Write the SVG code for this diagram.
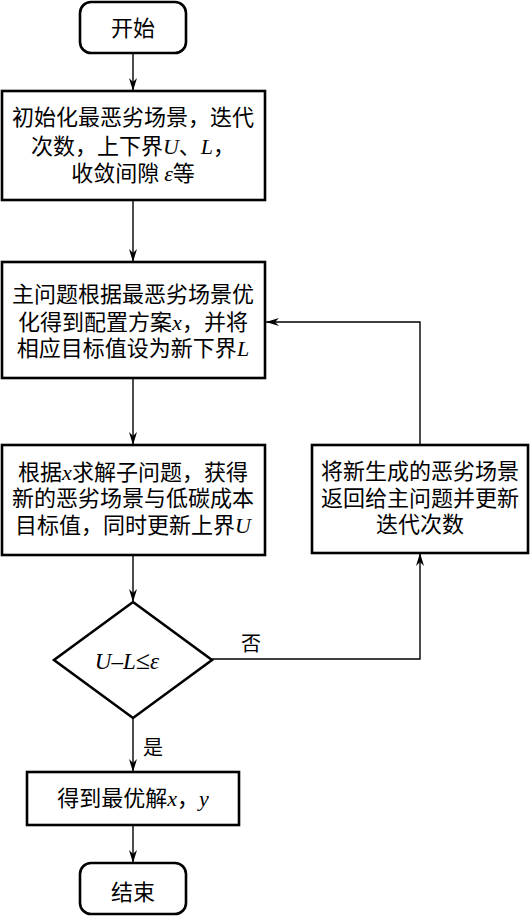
<svg xmlns="http://www.w3.org/2000/svg" width="530" height="917" viewBox="0 0 530 917">
<defs>
<marker id="arr" markerWidth="14" markerHeight="8" refX="13" refY="4" orient="auto" markerUnits="userSpaceOnUse">
<path d="M0,0 L13,4 L0,8 L4,4 Z" fill="#000"/>
</marker>
<style>
.box{fill:#fff;stroke:#000;stroke-width:2.6}
.conn{fill:none;stroke:#000;stroke-width:1.4}
.t{font-family:"Noto Sans CJK SC","Noto Sans CJK JP",sans-serif;font-size:22px;fill:#000;text-anchor:middle}
.v{font-family:"Liberation Serif",serif;font-style:italic}
</style>
</defs>
<rect width="530" height="917" fill="#fff"/>
<g id="connectors">
<line class="conn" x1="133" y1="53" x2="133" y2="91" marker-end="url(#arr)"/>
<line class="conn" x1="133" y1="200" x2="133" y2="262" marker-end="url(#arr)"/>
<line class="conn" x1="133" y1="378" x2="133" y2="445" marker-end="url(#arr)"/>
<line class="conn" x1="133" y1="555" x2="133" y2="602" marker-end="url(#arr)"/>
<line class="conn" x1="133" y1="718" x2="133" y2="772" marker-end="url(#arr)"/>
<line class="conn" x1="133" y1="825" x2="133" y2="863" marker-end="url(#arr)"/>
<polyline class="conn" points="212,659 420,659 420,553" marker-end="url(#arr)"/>
<polyline class="conn" points="420,445 420,322 266,322" marker-end="url(#arr)"/>
<text class="t" x="251" y="651" style="font-size:20px">否</text>
<text class="t" x="153" y="755" style="font-size:20px">是</text>
</g>
<g id="start">
<rect class="box" x="80" y="2" width="106" height="51" rx="11"/>
<text class="t" x="133" y="36">开始</text>
</g>
<g id="init">
<rect class="box" x="2" y="91" width="263" height="109"/>
<text class="t" x="133" y="125">初始化最恶劣场景，迭代</text>
<text class="t" x="133" y="154">次数，上下界<tspan class="v">U</tspan>、<tspan class="v">L</tspan>，</text>
<text class="t" x="133" y="181">收敛间隙 <tspan class="v">ε</tspan>等</text>
</g>
<g id="master">
<rect class="box" x="2" y="262" width="263" height="116"/>
<text class="t" x="133" y="302">主问题根据最恶劣场景优</text>
<text class="t" x="133" y="330">化得到配置方案<tspan class="v">x</tspan>，并将</text>
<text class="t" x="133" y="356">相应目标值设为新下界<tspan class="v">L</tspan></text>
</g>
<g id="sub">
<rect class="box" x="2" y="445" width="263" height="110"/>
<text class="t" x="133" y="480">根据<tspan class="v">x</tspan>求解子问题，获得</text>
<text class="t" x="133" y="506">新的恶劣场景与低碳成本</text>
<text class="t" x="133" y="533">目标值，同时更新上界<tspan class="v">U</tspan></text>
</g>
<g id="update">
<rect class="box" x="312" y="445" width="216" height="108"/>
<text class="t" x="420" y="479">将新生成的恶劣场景</text>
<text class="t" x="420" y="506">返回给主问题并更新</text>
<text class="t" x="420" y="532">迭代次数</text>
</g>
<g id="decision">
<polygon class="box" points="133,602 212,660 133,718 54,660"/>
<text class="t v" x="127" y="669" style="font-size:23px">U–L<tspan style="font-style:normal;font-size:26px">≤</tspan>ε</text>
</g>
<g id="result">
<rect class="box" x="27" y="772" width="212" height="53"/>
<text class="t" x="133" y="806">得到最优解<tspan class="v">x</tspan>，<tspan class="v">y</tspan></text>
</g>
<g id="end">
<rect class="box" x="80" y="863" width="106" height="51" rx="11"/>
<text class="t" x="133" y="900">结束</text>
</g>
</svg>
